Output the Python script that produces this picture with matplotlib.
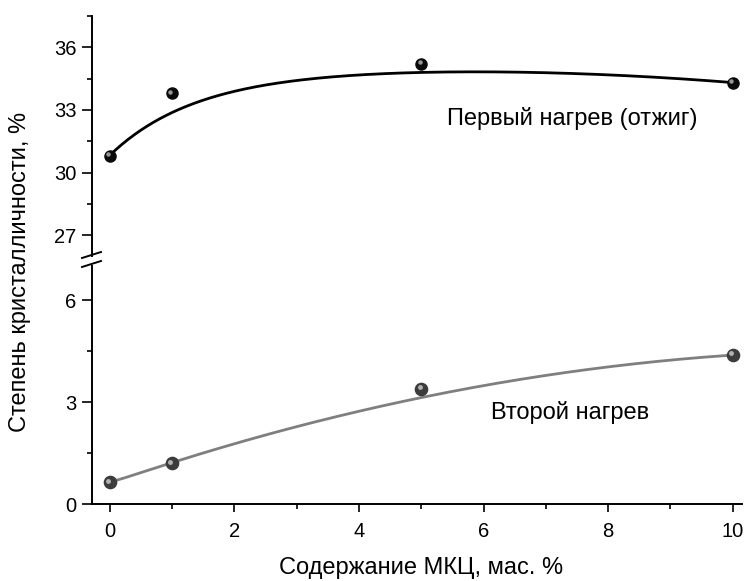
import matplotlib
matplotlib.use("Agg")
import matplotlib.pyplot as plt
import matplotlib.transforms as mtransforms
from matplotlib.ticker import MultipleLocator
import numpy as np

plt.rcParams['font.family'] = ['Liberation Sans', 'DejaVu Sans']

# measured points, % crystallinity vs MCC content
mcc = [0, 1, 5, 10]
first_heat = [30.8, 33.8, 35.2, 34.3]
second_heat = [0.65, 1.2, 3.4, 4.4]

# trend curves (sampled along the smooth lines)
trend_x_first = [0, 0.37, 0.64, 0.91, 1.36, 1.9, 2.33, 3.85, 5.45, 7.54, 9.14, 10]
trend_y_first = [30.8, 31.8, 32.32, 32.71, 33.32, 33.8, 34.09, 34.68, 34.81, 34.71, 34.52, 34.3]
trend_x_second = [0, 1, 1.92, 3.53, 5.13, 6.74, 8.18, 10]
trend_y_second = [0.65, 1.22, 1.74, 2.51, 3.22, 3.71, 4.04, 4.4]


def smooth_fit(xk, yk, n=300):
    # least squares: a + b*(1 - exp(-x/tau)) + c*x + d*x^2, tau by grid search
    xk = np.asarray(xk, float)
    yk = np.asarray(yk, float)
    best = None
    for tau in np.linspace(0.2, 6, 300):
        M = np.column_stack([np.ones_like(xk), 1 - np.exp(-xk / tau), xk, xk ** 2])
        coef = np.linalg.lstsq(M, yk, rcond=None)[0]
        err = np.sum((M @ coef - yk) ** 2)
        if best is None or err < best[0]:
            best = (err, tau, coef)
    _, tau, coef = best
    xs = np.linspace(xk[0], xk[-1], n)
    M = np.column_stack([np.ones_like(xs), 1 - np.exp(-xs / tau), xs, xs ** 2])
    return xs, M @ coef


fig = plt.figure(figsize=(7.44, 5.81), dpi=100)
left, width = 0.1233, 0.874
ax_top = fig.add_axes([left, 0.5594, width, 0.4131])
ax_bot = fig.add_axes([left, 0.132, width, 0.4102], sharex=ax_top)

lw_spine = 1.4
for ax in (ax_top, ax_bot):
    ax.spines['top'].set_visible(False)
    ax.spines['right'].set_visible(False)
    ax.spines['left'].set_linewidth(lw_spine)
    ax.spines['bottom'].set_linewidth(lw_spine)
    ax.tick_params(which='major', direction='out', length=7, width=1.2, labelsize=14.5, pad=4)
    ax.tick_params(which='minor', direction='out', length=3.5, width=1.2)
    ax.set_facecolor('none')

ax_top.spines['bottom'].set_visible(False)
ax_top.tick_params(axis='x', which='both', bottom=False, labelbottom=False)
ax_top.set_ylim(26, 37.5)
ax_top.yaxis.set_major_locator(MultipleLocator(3))
ax_top.yaxis.set_minor_locator(MultipleLocator(1.5))

ax_bot.set_ylim(0, 7)
ax_bot.yaxis.set_major_locator(MultipleLocator(3))
ax_bot.yaxis.set_minor_locator(MultipleLocator(1.5))
ax_bot.set_xlim(-0.29, 10.15)
ax_bot.xaxis.set_major_locator(MultipleLocator(2))
ax_bot.xaxis.set_minor_locator(MultipleLocator(1))
ax_bot.tick_params(axis='x', which='major', length=6, pad=7)

# trend lines
xs, ys = smooth_fit(trend_x_first, trend_y_first)
ax_top.plot(xs, ys, color='black', lw=2.0, solid_capstyle='round', zorder=2)
xs, ys = smooth_fit(trend_x_second, trend_y_second)
ax_bot.plot(xs, ys, color='#7f7f7f', lw=2.0, solid_capstyle='round', zorder=2)


def balls(ax, x, y, body, shine, ms):
    # shaded spheres: dark body plus a small glint up and to the left
    ax.plot(x, y, 'o', ms=ms, color=body, mec=body, zorder=3, clip_on=False)
    glint = mtransforms.offset_copy(ax.transData, fig=fig, x=-1.6, y=1.6, units='dots')
    ax.plot(x, y, 'o', ms=ms * 0.4, color=shine, mec='none', alpha=0.8,
            transform=glint, zorder=4, clip_on=False)


balls(ax_top, mcc, first_heat, '#0a0a0a', '#bdbdbd', 8)
balls(ax_bot, mcc, second_heat, '#3c3c3c', '#d0d0d0', 8.8)

ax_top.text(5.42, 32.28, 'Первый нагрев (отжиг)', fontsize=17, ha='left', va='baseline')
ax_bot.text(6.12, 2.52, 'Второй нагрев', fontsize=17, ha='left', va='baseline')

# axis break marks on the left spine
for yb in (258, 267):
    y0 = 1 - yb / 581
    fig.add_artist(plt.Line2D([82 / 744, 101 / 744], [y0, y0 + 6 / 581],
                              color='black', lw=1.4))

fig.text(20 / 744, 1 - 272 / 581, 'Степень кристалличности, %', rotation=90,
         fontsize=17, ha='center', va='center')
fig.text(421 / 744, 1 - 568 / 581, 'Содержание МКЦ, мас. %', fontsize=17,
         ha='center', va='center')

fig.savefig('out.png', dpi=100)
